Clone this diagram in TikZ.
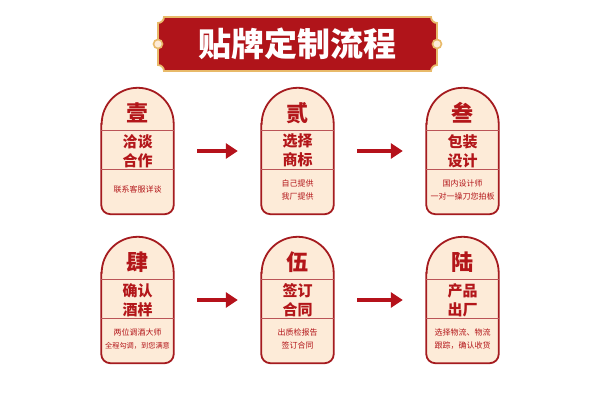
\documentclass[tikz,border=0pt]{standalone}
\usepackage{fontspec}
\newfontfamily\cjk{Noto Sans CJK SC}
\usepackage{xcolor}
\usetikzlibrary{positioning,arrows.meta}

\definecolor{bannerred}{HTML}{B0141A}
\definecolor{gold}{HTML}{E8BA6A}
\definecolor{cardred}{HTML}{A51B1F}
\definecolor{cardfill}{HTML}{FDEBD8}
\definecolor{textred}{HTML}{B3161A}
\definecolor{arrowred}{HTML}{B5121B}

\begin{document}
\begin{tikzpicture}[
 x=1pt, y=1pt,
 font=\cjk,
 card/.style={rectangle, minimum width=72pt, minimum height=126pt, inner sep=0pt},
 cardline/.style={draw=cardred, line width=1.8pt, fill=cardfill},
 divline/.style={draw=cardred!75, line width=0.8pt},
 numtext/.style={font=\cjk\bfseries\fontsize{22}{24}\selectfont, text=textred},
 midtext/.style={font=\cjk\bfseries\fontsize{15}{19}\selectfont, text=textred, align=center},
 smalltext/.style={font=\cjk\fontsize{8}{13}\selectfont, text=textred, align=center},
 arrow/.style={-{Triangle[length=12pt,width=15pt]}, line width=4.5pt, draw=arrowred, shorten <=23.5pt, shorten >=23.5pt}
 ]
 % Canvas
 \fill[white] (0,0) rectangle (600,393);
 \useasboundingbox (0,0) rectangle (600,393);

 % Title banner
 \draw[fill=bannerred, draw=gold, line width=1.8pt] (164,376) -- (431,376)
  arc[start angle=180, end angle=270, radius=6] -- (437,328)
  arc[start angle=90, end angle=180, radius=6] -- (164,322)
  arc[start angle=0, end angle=90, radius=6] -- (158,370)
  arc[start angle=-90, end angle=0, radius=6] -- cycle;
 \draw[fill=cardfill, draw=gold, line width=1.6pt] (158,349) circle (4.5);
 \draw[fill=cardfill, draw=gold, line width=1.6pt] (437,349) circle (4.5);
 \node[font=\cjk\bfseries\fontsize{33}{36}\selectfont, text=white] (title) at (297.5,349) {贴牌定制流程};

 % Cards
 \node[card] (c1) at (137.5,242) {};
 \node[card] (c2) at (297.5,242) {};
 \node[card] (c3) at (462.5,242) {};
 \node[card] (c4) at (137.5,93) {};
 \node[card] (c5) at (297.5,93) {};
 \node[card] (c6) at (462.5,93) {};

 % Card outlines
 \draw[cardline] ([yshift=-36pt]c1.north west) -- ([yshift=9pt]c1.south west) arc[start angle=180, end angle=270, radius=9pt] -- ([xshift=-9pt]c1.south east) arc[start angle=270, end angle=360, radius=9pt] -- ([yshift=-36pt]c1.north east) arc[start angle=0, end angle=180, radius=36pt] -- cycle;
 \draw[cardline] ([yshift=-36pt]c2.north west) -- ([yshift=9pt]c2.south west) arc[start angle=180, end angle=270, radius=9pt] -- ([xshift=-9pt]c2.south east) arc[start angle=270, end angle=360, radius=9pt] -- ([yshift=-36pt]c2.north east) arc[start angle=0, end angle=180, radius=36pt] -- cycle;
 \draw[cardline] ([yshift=-36pt]c3.north west) -- ([yshift=9pt]c3.south west) arc[start angle=180, end angle=270, radius=9pt] -- ([xshift=-9pt]c3.south east) arc[start angle=270, end angle=360, radius=9pt] -- ([yshift=-36pt]c3.north east) arc[start angle=0, end angle=180, radius=36pt] -- cycle;
 \draw[cardline] ([yshift=-36pt]c4.north west) -- ([yshift=9pt]c4.south west) arc[start angle=180, end angle=270, radius=9pt] -- ([xshift=-9pt]c4.south east) arc[start angle=270, end angle=360, radius=9pt] -- ([yshift=-36pt]c4.north east) arc[start angle=0, end angle=180, radius=36pt] -- cycle;
 \draw[cardline] ([yshift=-36pt]c5.north west) -- ([yshift=9pt]c5.south west) arc[start angle=180, end angle=270, radius=9pt] -- ([xshift=-9pt]c5.south east) arc[start angle=270, end angle=360, radius=9pt] -- ([yshift=-36pt]c5.north east) arc[start angle=0, end angle=180, radius=36pt] -- cycle;
 \draw[cardline] ([yshift=-36pt]c6.north west) -- ([yshift=9pt]c6.south west) arc[start angle=180, end angle=270, radius=9pt] -- ([xshift=-9pt]c6.south east) arc[start angle=270, end angle=360, radius=9pt] -- ([yshift=-36pt]c6.north east) arc[start angle=0, end angle=180, radius=36pt] -- cycle;

 % Dividers
 \draw[divline] ([yshift=-43pt]c1.north west) -- ([yshift=-43pt]c1.north east);
 \draw[divline] ([yshift=-82pt]c1.north west) -- ([yshift=-82pt]c1.north east);
 \draw[divline] ([yshift=-43pt]c2.north west) -- ([yshift=-43pt]c2.north east);
 \draw[divline] ([yshift=-82pt]c2.north west) -- ([yshift=-82pt]c2.north east);
 \draw[divline] ([yshift=-43pt]c3.north west) -- ([yshift=-43pt]c3.north east);
 \draw[divline] ([yshift=-82pt]c3.north west) -- ([yshift=-82pt]c3.north east);
 \draw[divline] ([yshift=-43pt]c4.north west) -- ([yshift=-43pt]c4.north east);
 \draw[divline] ([yshift=-82pt]c4.north west) -- ([yshift=-82pt]c4.north east);
 \draw[divline] ([yshift=-43pt]c5.north west) -- ([yshift=-43pt]c5.north east);
 \draw[divline] ([yshift=-82pt]c5.north west) -- ([yshift=-82pt]c5.north east);
 \draw[divline] ([yshift=-43pt]c6.north west) -- ([yshift=-43pt]c6.north east);
 \draw[divline] ([yshift=-82pt]c6.north west) -- ([yshift=-82pt]c6.north east);

 % Step 1
 \node[numtext] (n1) at ([yshift=-25pt]c1.north) {壹};
 \node[midtext] (m1) at ([yshift=-63pt]c1.north) {洽谈\\合作};
 \node[smalltext] (s1) at ([yshift=-102pt]c1.north) {联系客服详谈};

 % Step 2
 \node[numtext] (n2) at ([yshift=-25pt]c2.north) {贰};
 \node[midtext] (m2) at ([yshift=-63pt]c2.north) {选择\\商标};
 \node[smalltext] (s2) at ([yshift=-102pt]c2.north) {自己提供\\我厂提供};

 % Step 3
 \node[numtext] (n3) at ([yshift=-25pt]c3.north) {叁};
 \node[midtext] (m3) at ([yshift=-63pt]c3.north) {包装\\设计};
 \node[smalltext] (s3) at ([yshift=-102pt]c3.north) {国内设计师\\一对一操刀您拍板};

 % Step 4
 \node[numtext] (n4) at ([yshift=-25pt]c4.north) {肆};
 \node[midtext] (m4) at ([yshift=-63pt]c4.north) {确认\\酒样};
 \node[smalltext] (s4) at ([yshift=-102pt]c4.north) {两位调酒大师\\{\fontsize{7.2}{13}\selectfont 全程勾调，到您满意}};

 % Step 5
 \node[numtext] (n5) at ([yshift=-25pt]c5.north) {伍};
 \node[midtext] (m5) at ([yshift=-63pt]c5.north) {签订\\合同};
 \node[smalltext] (s5) at ([yshift=-102pt]c5.north) {出质检报告\\签订合同};

 % Step 6
 \node[numtext] (n6) at ([yshift=-25pt]c6.north) {陆};
 \node[midtext] (m6) at ([yshift=-63pt]c6.north) {产品\\出厂};
 \node[smalltext] (s6) at ([yshift=-102pt]c6.north) {选择物流、物流\\跟踪，确认收货};

 % Arrows
 \draw[arrow] (c1) -- (c2);
 \draw[arrow] (c2) -- (c3);
 \draw[arrow] (c4) -- (c5);
 \draw[arrow] (c5) -- (c6);
\end{tikzpicture}
\end{document}
